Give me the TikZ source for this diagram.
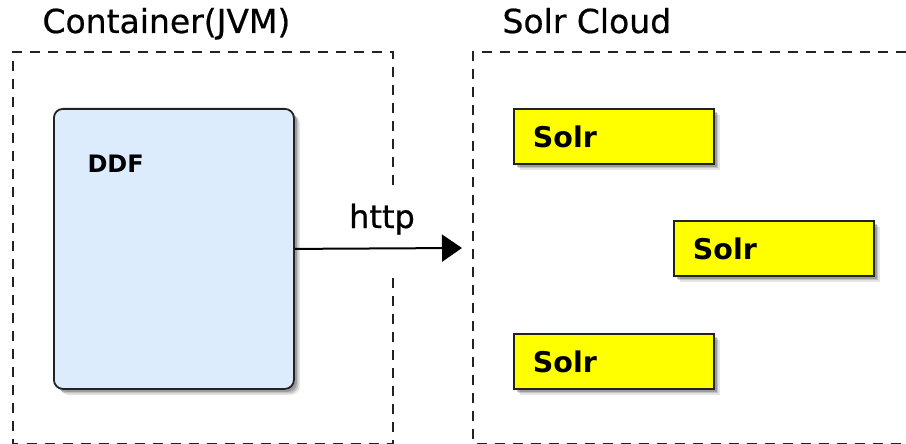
\documentclass[tikz,border=0pt]{standalone}
\usepackage{fontspec}
\setmainfont{DejaVu Sans}
\newfontfamily\heavyreg[FakeBold=0.6]{DejaVu Sans}
\usetikzlibrary{arrows.meta,shadows,calc}
\definecolor{ddfblue}{RGB}{221,236,252}
\definecolor{solryellow}{RGB}{255,255,0}
\definecolor{edge}{RGB}{34,34,34}
\tikzset{
  frame/.style={draw=edge, line width=1.7pt, dash pattern=on 10pt off 8pt},
  shade/.style={
    general shadow={shadow xshift=6pt, shadow yshift=-6pt, opacity=0.1, fill=black},
    general shadow={shadow xshift=4.5pt, shadow yshift=-4.5pt, opacity=0.15, fill=black},
    general shadow={shadow xshift=3pt, shadow yshift=-3pt, opacity=0.2, fill=black}},
  ddfbox/.style={draw=edge, line width=1.8pt, fill=ddfblue, rounded corners=9pt,
    minimum width=240pt, minimum height=280pt, anchor=north west, shade, inner sep=0pt},
  solrbox/.style={draw=edge, line width=1.8pt, fill=solryellow, anchor=north west,
    minimum width=200pt, minimum height=55pt, text width=162pt, inner xsep=19pt, inner ysep=0pt,
    align=left, shade, font=\bfseries\fontsize{28.5}{31}\selectfont},
  title/.style={anchor=base west, font=\heavyreg\fontsize{33}{36}\selectfont},
  link/.style={line width=2pt, draw=black, -{Triangle[length=20pt,width=27pt]}}
}
\begin{document}
\begin{tikzpicture}[x=1pt,y=-1pt]
\useasboundingbox (0,0) rectangle (906,444);
% frames
\draw[frame] (393,185) -- (393,52) -- (13,52) -- (13,443.5) -- (393,443.5) -- (393,275);
\draw[frame] (960,52) -- (473,52) -- (473,443.5) -- (960,443.5);
\node[title] (ttl1) at (39,33) {Container(JVM)};
\node[title] (ttl2) at (499,33) {Solr Cloud};
% DDF
\node[ddfbox] (ddf) at (53,108) {};
\node[anchor=base west, font=\bfseries\fontsize{24}{28}\selectfont] (ddft) at (84,172) {DDF};
% Solr nodes
\node[solrbox] (s1) at (513,108) {Solr};
\node[solrbox] (s2) at (673,220) {Solr};
\node[solrbox] (s3) at (513,333) {Solr};
% arrow
\coordinate (tip) at (462,248);
\draw[link] (ddf.east) -- (tip);
\node[anchor=base, font=\heavyreg\fontsize{32}{36}\selectfont] (http) at (382,228) {http};
\end{tikzpicture}
\end{document}
